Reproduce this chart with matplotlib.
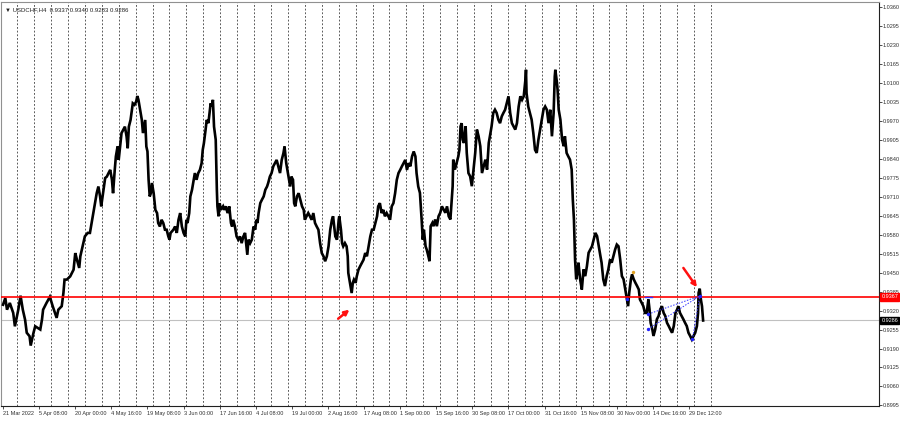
import matplotlib
matplotlib.use("Agg")
import matplotlib.pyplot as plt
import matplotlib.transforms as mtransforms

plt.rcParams['font.family'] = ['Liberation Sans Narrow', 'Liberation Sans', 'DejaVu Sans']

# ---------------- data ----------------
symbol = "USDCHF,H4"
ohlc_last = ["0.9337", "0.9340", "0.9283", "0.9286"]

bars = [0, 4, 7, 12, 18, 21, 27, 31, 35, 39, 42, 47, 49, 54, 57, 61, 66, 69, 71, 77,
        83, 88, 92, 95, 98, 104, 107, 109, 113, 119, 125, 128, 131, 135, 137, 141, 145, 150, 154, 157,
        160, 163, 166, 169, 172, 174, 178, 181, 184, 187, 190, 193, 195, 198, 200, 203, 205, 208, 210, 213,
        216, 219, 221, 223, 226, 230, 233, 236, 238, 240, 243, 246, 248, 250,
        252, 254, 256, 258, 260, 262, 264, 267, 270, 273, 275, 278, 281, 284, 287, 290, 293, 295, 297, 302,
        305, 308, 311, 314, 317, 320, 323, 325, 327, 330, 332, 335, 338, 340, 343, 346, 349, 352, 354, 356,
        359, 361, 364, 366, 368, 370, 372, 374, 377, 378, 379, 380, 382, 384, 386, 390, 392, 395, 398, 401,
        404, 406, 408, 411, 414, 417, 420, 423, 426, 429, 432, 433, 435, 438, 441, 444, 447, 449, 451, 453,
        456, 459, 462, 465, 468, 470, 473, 476, 479, 482, 485, 488,
        491, 494, 497, 499, 502, 504, 507, 509, 511, 514, 516, 518, 521, 524, 527, 530, 533, 535, 538, 541,
        544, 547, 550, 553, 556, 559, 562, 565, 568, 571, 574, 577, 580, 583, 585, 587, 589, 592, 595, 596,
        599, 601, 603, 606, 609, 611, 612, 614, 616, 618, 620, 622, 625, 627, 630, 633, 636, 639, 642, 645,
        648, 651, 654, 657, 660, 663, 665, 668, 671, 674, 677, 680, 683, 686, 689, 692, 695, 698, 701, 704,
        707, 710, 713, 716, 719, 722, 725, 728, 731, 733, 736,
        739, 742, 744, 746, 749, 751, 754, 756, 758, 761, 763, 766, 769, 772, 775, 778, 781, 784, 787, 790,
        793, 795, 797, 798, 801, 804, 807, 809, 811, 813, 815, 817, 820, 822, 825, 828, 831, 834, 837, 840,
        843, 846, 849, 852, 855, 858, 861, 863, 866, 869, 872, 875, 878, 881, 884, 887, 890, 893, 896, 899,
        902, 905, 908, 911, 914, 917, 920, 923, 926, 927, 928, 931, 934, 937, 940, 943, 946, 949, 952, 955,
        958, 961, 964, 967, 970, 973, 976, 978, 979, 982, 983, 985,
        988, 991, 994, 996, 999, 1002, 1005, 1008, 1010, 1012, 1014, 1016, 1018, 1020, 1023, 1026, 1029, 1032, 1035, 1038,
        1041, 1044, 1047, 1050, 1053, 1056, 1059, 1061, 1064, 1067, 1070, 1073, 1076, 1079, 1082, 1085, 1088, 1091, 1094, 1097,
        1100, 1103, 1106, 1108, 1110, 1113, 1115, 1118, 1121, 1124, 1127, 1129, 1132, 1135, 1138, 1141, 1144, 1146, 1148, 1151,
        1153, 1156, 1159, 1162, 1165, 1168, 1171, 1174, 1177, 1180, 1183, 1186, 1189, 1192, 1195, 1197, 1200, 1203, 1206, 1209,
        1212, 1215, 1218, 1221, 1224, 1227, 1230, 1232, 1233, 1235, 1237, 1239, 1241]

prices = [0.9340, 0.9363, 0.9323, 0.9346, 0.9312, 0.9266, 0.9323, 0.9371, 0.9323, 0.9289,
          0.9244, 0.9232, 0.9200, 0.9244, 0.9266, 0.9261, 0.9255, 0.9289, 0.9323, 0.9346,
          0.9367, 0.9335, 0.9312, 0.9295, 0.9323, 0.9335, 0.9380, 0.9426, 0.9426, 0.9437,
          0.9460, 0.9517, 0.9494, 0.9466, 0.9506, 0.9540, 0.9574, 0.9586, 0.9586, 0.9620,
          0.9654, 0.9688, 0.9722, 0.9745, 0.9711, 0.9677, 0.9734, 0.9774, 0.9779, 0.9791,
          0.9802, 0.9768, 0.9722, 0.9802, 0.9848, 0.9882, 0.9836, 0.9893, 0.9928, 0.9939,
          0.9950, 0.9916, 0.9876, 0.9950, 0.9973, 1.0030, 1.0025, 1.0036, 1.0055, 1.0042,
          1.0007, 0.9973, 0.9928, 0.9950,
          0.9973, 0.9882, 0.9865, 0.9768, 0.9711, 0.9722, 0.9757, 0.9722, 0.9665, 0.9654,
          0.9620, 0.9608, 0.9631, 0.9620, 0.9597, 0.9597, 0.9574, 0.9563, 0.9586, 0.9597,
          0.9608, 0.9586, 0.9631, 0.9654, 0.9608, 0.9586, 0.9574, 0.9631, 0.9620, 0.9654,
          0.9711, 0.9734, 0.9768, 0.9791, 0.9768, 0.9791, 0.9802, 0.9825, 0.9871, 0.9893,
          0.9939, 0.9973, 0.9962, 0.9996, 1.0030, 1.0019, 1.0042, 0.9950, 0.9905, 0.9814,
          0.9734, 0.9677, 0.9643, 0.9688, 0.9665, 0.9677, 0.9665, 0.9677, 0.9654, 0.9677,
          0.9620, 0.9608, 0.9631, 0.9608, 0.9574, 0.9563, 0.9574, 0.9551, 0.9574, 0.9586,
          0.9529, 0.9511, 0.9563, 0.9551, 0.9563, 0.9608, 0.9597, 0.9631, 0.9620, 0.9654,
          0.9688, 0.9700, 0.9711, 0.9734, 0.9745, 0.9757, 0.9779, 0.9791, 0.9814, 0.9825,
          0.9836, 0.9814,
          0.9791, 0.9836, 0.9859, 0.9882, 0.9825, 0.9802, 0.9768, 0.9745, 0.9779, 0.9768,
          0.9688, 0.9677, 0.9711, 0.9722, 0.9700, 0.9677, 0.9665, 0.9631, 0.9643, 0.9654,
          0.9643, 0.9631, 0.9654, 0.9620, 0.9608, 0.9597, 0.9551, 0.9517, 0.9506, 0.9489,
          0.9506, 0.9540, 0.9597, 0.9631, 0.9643, 0.9608, 0.9574, 0.9563, 0.9631, 0.9643,
          0.9597, 0.9551, 0.9540, 0.9551, 0.9540, 0.9506, 0.9449, 0.9426, 0.9403, 0.9380,
          0.9415, 0.9426, 0.9415, 0.9437, 0.9460, 0.9472, 0.9483, 0.9494, 0.9517, 0.9506,
          0.9540, 0.9574, 0.9597, 0.9597, 0.9620, 0.9643, 0.9677, 0.9688, 0.9654, 0.9665,
          0.9643, 0.9654, 0.9643, 0.9631, 0.9677, 0.9688, 0.9722, 0.9768, 0.9791, 0.9802,
          0.9814, 0.9825, 0.9836, 0.9802, 0.9825, 0.9814, 0.9848, 0.9865, 0.9848, 0.9791,
          0.9745,
          0.9723, 0.9632, 0.9563, 0.9597, 0.9540, 0.9529, 0.9506, 0.9489, 0.9609, 0.9620,
          0.9609, 0.9632, 0.9609, 0.9643, 0.9655, 0.9677, 0.9666, 0.9655, 0.9677, 0.9643,
          0.9632, 0.9689, 0.9746, 0.9837, 0.9803, 0.9826, 0.9848, 0.9871, 0.9951, 0.9962,
          0.9905, 0.9894, 0.9951, 0.9860, 0.9791, 0.9780, 0.9746, 0.9803, 0.9860, 0.9940,
          0.9917, 0.9883, 0.9791, 0.9814, 0.9837, 0.9803, 0.9894, 0.9917, 0.9951, 0.9997,
          1.0008, 0.9997, 0.9974, 0.9962, 0.9985, 0.9997, 1.0008, 1.0031, 1.0054, 0.9997,
          0.9962, 0.9951, 0.9940, 0.9962, 1.0019, 1.0054, 1.0042, 1.0054, 1.0111, 1.0145,
          1.0065, 1.0019, 0.9997, 0.9974, 0.9928, 0.9871, 0.9860, 0.9905, 0.9940, 0.9974,
          1.0008, 1.0019, 1.0008, 0.9962, 1.0008, 0.9917, 0.9997, 1.0122, 1.0145, 1.0099,
          1.0076, 1.0008,
          0.9974, 0.9905, 0.9883, 0.9917, 0.9860, 0.9848, 0.9837, 0.9803, 0.9700, 0.9632,
          0.9495, 0.9427, 0.9449, 0.9484, 0.9427, 0.9392, 0.9461, 0.9438, 0.9472, 0.9518,
          0.9529, 0.9540, 0.9563, 0.9586, 0.9575, 0.9540, 0.9506, 0.9484, 0.9427, 0.9404,
          0.9438, 0.9461, 0.9495, 0.9484, 0.9506, 0.9529, 0.9546, 0.9540, 0.9495, 0.9438,
          0.9427, 0.9392, 0.9358, 0.9335, 0.9381, 0.9427, 0.9444, 0.9427, 0.9415, 0.9404,
          0.9392, 0.9358, 0.9347, 0.9335, 0.9312, 0.9312, 0.9358, 0.9324, 0.9278, 0.9255,
          0.9233, 0.9255, 0.9290, 0.9301, 0.9324, 0.9335, 0.9312, 0.9301, 0.9278, 0.9267,
          0.9255, 0.9244, 0.9267, 0.9312, 0.9324, 0.9335, 0.9312, 0.9301, 0.9290, 0.9278,
          0.9267, 0.9244, 0.9233, 0.9221, 0.9233, 0.9244, 0.9267, 0.9312, 0.9381, 0.9395,
          0.9358, 0.9335, 0.9286]

level_price = 0.9367
last_price = 0.9286

time_labels = ["21 Mar 2022", "5 Apr 08:00", "20 Apr 00:00", "4 May 16:00", "19 May 08:00",
               "3 Jun 00:00", "17 Jun 16:00", "4 Jul 08:00", "19 Jul 00:00", "2 Aug 16:00",
               "17 Aug 08:00", "1 Sep 00:00", "15 Sep 16:00", "30 Sep 08:00", "17 Oct 00:00",
               "31 Oct 16:00", "15 Nov 08:00", "30 Nov 00:00", "14 Dec 16:00", "29 Dec 12:00"]
label_bars = [64 * i for i in range(len(time_labels))]
grid_bars = [25 + 30 * i for i in range(42)]

price_ticks = [1.0360, 1.0295, 1.0230, 1.0165, 1.0100, 1.0035, 0.9970, 0.9905, 0.9840, 0.9775,
               0.9710, 0.9645, 0.9580, 0.9515, 0.9450, 0.9385, 0.9320, 0.9255, 0.9190, 0.9125,
               0.9060, 0.8995]

# pattern drawing (blue points / dotted lines) near the end
pat_bars = [1106, 1144, 1144, 1222, 1235]
pat_prices = [0.9358, 0.9308, 0.9257, 0.9221, 0.9370]
pat_extra_bar, pat_extra_price = 1116, 0.9453

# arrows: (tail_bar, tail_price, head_bar, head_price)
arrows = [(594, 0.9292, 614, 0.9323), (1206, 0.9466, 1230, 0.9400)]

# ---------------- figure ----------------
FS = 4.0
fig = plt.figure(figsize=(9.0, 4.21), dpi=100)
ax = fig.add_axes([0.0012, 0.0356, 0.9756, 0.9596])
ax.set_xlim(-3.5, 1553)
ax.set_ylim(0.8993, 1.0377)

# grid
for gb in grid_bars:
    ax.axvline(gb, color="#404040", lw=0.6, ls=(0, (2.2, 2.2)), zorder=1)

# price line
ax.plot(bars, prices, color="black", lw=1.9, solid_joinstyle="miter", zorder=3)

# horizontal lines
ax.axhline(level_price, color="#ff0000", lw=1.2, zorder=4)
ax.axhline(last_price, color="#c0c0c0", lw=0.8, zorder=2)

# pattern
dot = (0, (1.5, 1.5))
ax.plot([pat_bars[1], pat_bars[4]], [pat_prices[1], pat_prices[4]], color="#3030ff", lw=0.7, ls=dot, zorder=5)
ax.plot([pat_bars[2], pat_bars[4]], [pat_prices[2], pat_prices[4]], color="#3030ff", lw=0.7, ls=dot, zorder=5)
ax.plot([pat_bars[3], pat_bars[4]], [pat_prices[3], pat_prices[4]], color="#3030ff", lw=0.7, ls=dot, zorder=5)
ax.plot([pat_bars[1] - 6, pat_bars[1] + 6], [level_price, level_price], color="#3030ff", lw=1.0, zorder=5)
ax.scatter(pat_bars, pat_prices, s=6, color="#2020ff", zorder=6, linewidths=0)
ax.scatter([pat_extra_bar], [pat_extra_price], s=6, color="#e0a020", zorder=6, linewidths=0)

# arrows
for tb, tp, hb, hp in arrows:
    ax.annotate("", xy=(hb, hp), xytext=(tb, tp),
                arrowprops=dict(arrowstyle="-|>", color="#ff1010", lw=1.8,
                                mutation_scale=7, shrinkA=0, shrinkB=0), zorder=7)

# axes styling
for s in ["left", "top"]:
    ax.spines[s].set_color("#909090")
    ax.spines[s].set_linewidth(0.8)
for s in ["right", "bottom"]:
    ax.spines[s].set_color("#202020")
    ax.spines[s].set_linewidth(0.8)

ax.yaxis.tick_right()
ax.set_yticks(price_ticks)
ax.set_yticklabels([f"{p:.4f}" for p in price_ticks])
ax.tick_params(axis="y", direction="out", length=2.0, width=0.6, labelsize=FS,
               pad=0.8, colors="#303030")

ax.set_xticks(label_bars)
ax.set_xticklabels(time_labels, ha="left")
ax.tick_params(axis="x", direction="out", length=2.5, width=0.6, labelsize=FS,
               pad=1.2, colors="#303030")

# price label boxes on the right axis
trans = mtransforms.blended_transform_factory(ax.transAxes, ax.transData)
ax.text(1.0025, level_price, f"{level_price:.4f}", transform=trans, fontsize=FS,
        color="white", va="center", ha="left", zorder=10, clip_on=False,
        bbox=dict(boxstyle="square,pad=0.22", fc="#ff0000", ec="#ff0000"))
ax.text(1.0025, last_price, f"{last_price:.4f}", transform=trans, fontsize=FS,
        color="white", va="center", ha="left", zorder=10, clip_on=False,
        bbox=dict(boxstyle="square,pad=0.22", fc="black", ec="black"))

# header text
ax.text(0.004, 0.988, "\u25bc " + symbol + "  " + " ".join(ohlc_last), transform=ax.transAxes,
        fontsize=FS + 0.3, color="#202020", va="top", ha="left", zorder=10)

fig.savefig("out.png", dpi=100, facecolor="white")
